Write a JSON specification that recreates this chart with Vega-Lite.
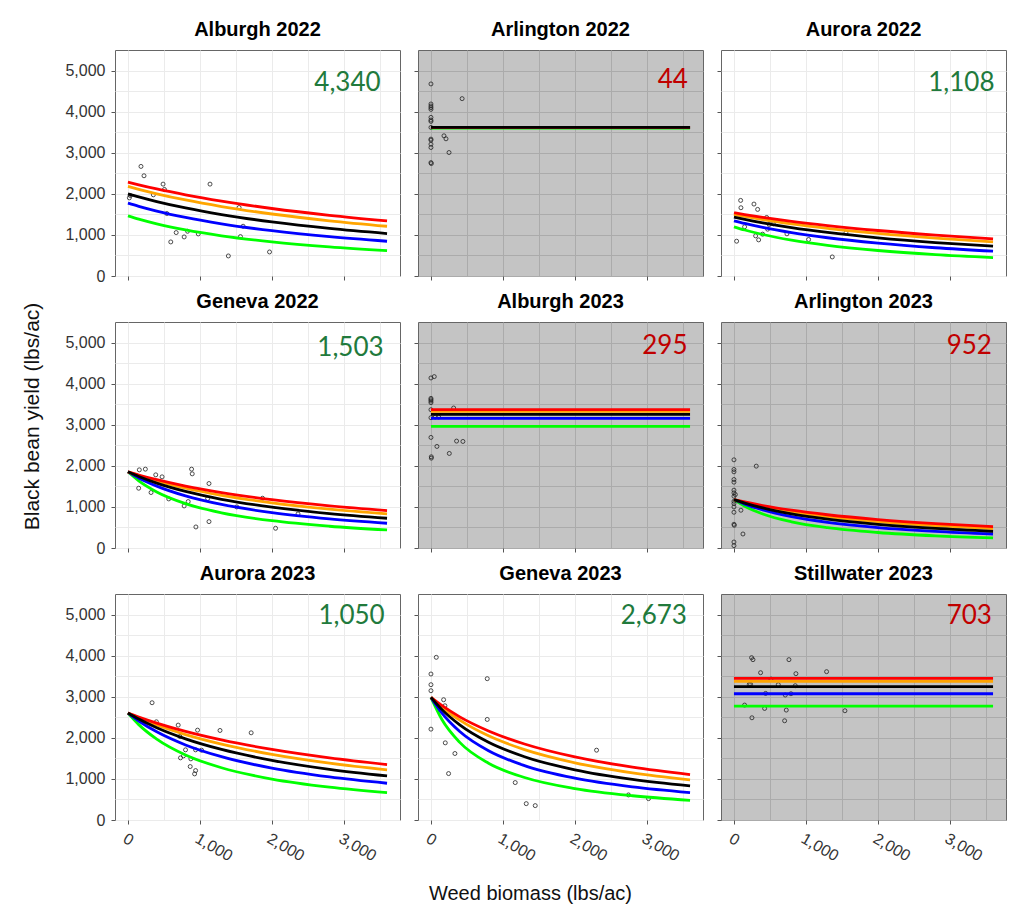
{
  "$schema": "https://vega.github.io/schema/vega-lite/v6.json",
  "padding": {"left": 21, "top": 19, "right": 2, "bottom": 2},
  "background": "white",
  "columns": 3,
  "spacing": {"row": 46, "column": 18},
  "bounds": "flush",
  "resolve": {"scale": {"x": "independent", "y": "independent"}, "axis": {"x": "independent", "y": "independent"}},
  "datasets": {
    "pts": [
      {"panel": "Alburgh 2022", "x": 181, "y": 2667}, {"panel": "Alburgh 2022", "x": 223, "y": 2439}, {"panel": "Alburgh 2022", "x": 488, "y": 2236}, {"panel": "Alburgh 2022", "x": 507, "y": 2106}, {"panel": "Alburgh 2022", "x": 353, "y": 1976}, {"panel": "Alburgh 2022", "x": 19, "y": 1902}, {"panel": "Alburgh 2022", "x": 33, "y": 1959}, {"panel": "Alburgh 2022", "x": 540, "y": 1520}, {"panel": "Alburgh 2022", "x": 670, "y": 1057}, {"panel": "Alburgh 2022", "x": 595, "y": 829}, {"panel": "Alburgh 2022", "x": 781, "y": 951}, {"panel": "Alburgh 2022", "x": 828, "y": 1089}, {"panel": "Alburgh 2022", "x": 977, "y": 1024}, {"panel": "Alburgh 2022", "x": 1140, "y": 2236}, {"panel": "Alburgh 2022", "x": 1395, "y": 488}, {"panel": "Alburgh 2022", "x": 1544, "y": 1667}, {"panel": "Alburgh 2022", "x": 1600, "y": 1211}, {"panel": "Alburgh 2022", "x": 1563, "y": 959}, {"panel": "Alburgh 2022", "x": 1967, "y": 585},
      {"panel": "Arlington 2022", "x": 0, "y": 4674}, {"panel": "Arlington 2022", "x": 0, "y": 4186}, {"panel": "Arlington 2022", "x": 0, "y": 4137}, {"panel": "Arlington 2022", "x": 0, "y": 4096}, {"panel": "Arlington 2022", "x": 0, "y": 4055}, {"panel": "Arlington 2022", "x": 0, "y": 3860}, {"panel": "Arlington 2022", "x": 0, "y": 3795}, {"panel": "Arlington 2022", "x": 0, "y": 3762}, {"panel": "Arlington 2022", "x": 0, "y": 3616}, {"panel": "Arlington 2022", "x": 0, "y": 3331}, {"panel": "Arlington 2022", "x": 0, "y": 3306}, {"panel": "Arlington 2022", "x": 0, "y": 3208}, {"panel": "Arlington 2022", "x": 0, "y": 3127}, {"panel": "Arlington 2022", "x": 0, "y": 2760}, {"panel": "Arlington 2022", "x": 5, "y": 2736}, {"panel": "Arlington 2022", "x": 433, "y": 4316}, {"panel": "Arlington 2022", "x": 181, "y": 3412}, {"panel": "Arlington 2022", "x": 209, "y": 3339}, {"panel": "Arlington 2022", "x": 251, "y": 3005},
      {"panel": "Aurora 2022", "x": 93, "y": 1840}, {"panel": "Aurora 2022", "x": 97, "y": 1661}, {"panel": "Aurora 2022", "x": 278, "y": 1751}, {"panel": "Aurora 2022", "x": 329, "y": 1621}, {"panel": "Aurora 2022", "x": 37, "y": 847}, {"panel": "Aurora 2022", "x": 148, "y": 1197}, {"panel": "Aurora 2022", "x": 301, "y": 977}, {"panel": "Aurora 2022", "x": 343, "y": 879}, {"panel": "Aurora 2022", "x": 398, "y": 1018}, {"panel": "Aurora 2022", "x": 454, "y": 1425}, {"panel": "Aurora 2022", "x": 468, "y": 1140}, {"panel": "Aurora 2022", "x": 491, "y": 1254}, {"panel": "Aurora 2022", "x": 546, "y": 1270}, {"panel": "Aurora 2022", "x": 736, "y": 1026}, {"panel": "Aurora 2022", "x": 1037, "y": 888}, {"panel": "Aurora 2022", "x": 1366, "y": 464}, {"panel": "Aurora 2022", "x": 1556, "y": 1050},
      {"panel": "Geneva 2022", "x": 158, "y": 1902}, {"panel": "Geneva 2022", "x": 242, "y": 1919}, {"panel": "Geneva 2022", "x": 149, "y": 1455}, {"panel": "Geneva 2022", "x": 321, "y": 1350}, {"panel": "Geneva 2022", "x": 386, "y": 1780}, {"panel": "Geneva 2022", "x": 474, "y": 1732}, {"panel": "Geneva 2022", "x": 567, "y": 1195}, {"panel": "Geneva 2022", "x": 781, "y": 1024}, {"panel": "Geneva 2022", "x": 837, "y": 1130}, {"panel": "Geneva 2022", "x": 884, "y": 1919}, {"panel": "Geneva 2022", "x": 893, "y": 1805}, {"panel": "Geneva 2022", "x": 944, "y": 512}, {"panel": "Geneva 2022", "x": 1126, "y": 1569}, {"panel": "Geneva 2022", "x": 1107, "y": 1203}, {"panel": "Geneva 2022", "x": 1126, "y": 642}, {"panel": "Geneva 2022", "x": 1512, "y": 1000}, {"panel": "Geneva 2022", "x": 1870, "y": 1211}, {"panel": "Geneva 2022", "x": 2051, "y": 480}, {"panel": "Geneva 2022", "x": 2363, "y": 829},
      {"panel": "Alburgh 2023", "x": 0, "y": 4138}, {"panel": "Alburgh 2023", "x": 46, "y": 4171}, {"panel": "Alburgh 2023", "x": 0, "y": 3642}, {"panel": "Alburgh 2023", "x": 0, "y": 3610}, {"panel": "Alburgh 2023", "x": 0, "y": 3577}, {"panel": "Alburgh 2023", "x": 0, "y": 3537}, {"panel": "Alburgh 2023", "x": 0, "y": 3366}, {"panel": "Alburgh 2023", "x": 0, "y": 3171}, {"panel": "Alburgh 2023", "x": 60, "y": 3187}, {"panel": "Alburgh 2023", "x": 106, "y": 3187}, {"panel": "Alburgh 2023", "x": 315, "y": 3407}, {"panel": "Alburgh 2023", "x": 0, "y": 2691}, {"panel": "Alburgh 2023", "x": 83, "y": 2472}, {"panel": "Alburgh 2023", "x": 356, "y": 2602}, {"panel": "Alburgh 2023", "x": 444, "y": 2593}, {"panel": "Alburgh 2023", "x": 255, "y": 2301}, {"panel": "Alburgh 2023", "x": 5, "y": 2220}, {"panel": "Alburgh 2023", "x": 5, "y": 2187},
      {"panel": "Arlington 2023", "x": 0, "y": 2146}, {"panel": "Arlington 2023", "x": 0, "y": 1911}, {"panel": "Arlington 2023", "x": 0, "y": 1854}, {"panel": "Arlington 2023", "x": 0, "y": 1667}, {"panel": "Arlington 2023", "x": 0, "y": 1602}, {"panel": "Arlington 2023", "x": 0, "y": 1407}, {"panel": "Arlington 2023", "x": 0, "y": 1341}, {"panel": "Arlington 2023", "x": 0, "y": 1260}, {"panel": "Arlington 2023", "x": 0, "y": 1138}, {"panel": "Arlington 2023", "x": 0, "y": 1081}, {"panel": "Arlington 2023", "x": 0, "y": 1000}, {"panel": "Arlington 2023", "x": 0, "y": 870}, {"panel": "Arlington 2023", "x": 0, "y": 577}, {"panel": "Arlington 2023", "x": 5, "y": 553}, {"panel": "Arlington 2023", "x": 0, "y": 146}, {"panel": "Arlington 2023", "x": 0, "y": 57}, {"panel": "Arlington 2023", "x": 310, "y": 1992}, {"panel": "Arlington 2023", "x": 97, "y": 919}, {"panel": "Arlington 2023", "x": 125, "y": 341}, {"panel": "Arlington 2023", "x": 19, "y": 1301},
      {"panel": "Aurora 2023", "x": 335, "y": 2854}, {"panel": "Aurora 2023", "x": 395, "y": 2390}, {"panel": "Aurora 2023", "x": 698, "y": 2309}, {"panel": "Aurora 2023", "x": 721, "y": 2033}, {"panel": "Aurora 2023", "x": 967, "y": 2187}, {"panel": "Aurora 2023", "x": 1279, "y": 2179}, {"panel": "Aurora 2023", "x": 1712, "y": 2122}, {"panel": "Aurora 2023", "x": 800, "y": 1707}, {"panel": "Aurora 2023", "x": 730, "y": 1512}, {"panel": "Aurora 2023", "x": 772, "y": 1561}, {"panel": "Aurora 2023", "x": 874, "y": 1488}, {"panel": "Aurora 2023", "x": 940, "y": 1707}, {"panel": "Aurora 2023", "x": 1023, "y": 1699}, {"panel": "Aurora 2023", "x": 865, "y": 1301}, {"panel": "Aurora 2023", "x": 940, "y": 1203}, {"panel": "Aurora 2023", "x": 926, "y": 1122},
      {"panel": "Geneva 2023", "x": 74, "y": 3959}, {"panel": "Geneva 2023", "x": 0, "y": 3553}, {"panel": "Geneva 2023", "x": 0, "y": 3293}, {"panel": "Geneva 2023", "x": 0, "y": 3146}, {"panel": "Geneva 2023", "x": 0, "y": 2211}, {"panel": "Geneva 2023", "x": 176, "y": 2927}, {"panel": "Geneva 2023", "x": 194, "y": 2780}, {"panel": "Geneva 2023", "x": 199, "y": 1878}, {"panel": "Geneva 2023", "x": 333, "y": 1618}, {"panel": "Geneva 2023", "x": 245, "y": 1130}, {"panel": "Geneva 2023", "x": 782, "y": 3439}, {"panel": "Geneva 2023", "x": 782, "y": 2447}, {"panel": "Geneva 2023", "x": 1171, "y": 911}, {"panel": "Geneva 2023", "x": 1324, "y": 398}, {"panel": "Geneva 2023", "x": 1449, "y": 350}, {"panel": "Geneva 2023", "x": 2301, "y": 1699}, {"panel": "Geneva 2023", "x": 2745, "y": 610}, {"panel": "Geneva 2023", "x": 3023, "y": 520},
      {"panel": "Stillwater 2023", "x": 245, "y": 3951}, {"panel": "Stillwater 2023", "x": 264, "y": 3902}, {"panel": "Stillwater 2023", "x": 764, "y": 3902}, {"panel": "Stillwater 2023", "x": 370, "y": 3585}, {"panel": "Stillwater 2023", "x": 861, "y": 3561}, {"panel": "Stillwater 2023", "x": 1287, "y": 3610}, {"panel": "Stillwater 2023", "x": 213, "y": 3301}, {"panel": "Stillwater 2023", "x": 231, "y": 3301}, {"panel": "Stillwater 2023", "x": 514, "y": 3431}, {"panel": "Stillwater 2023", "x": 616, "y": 3293}, {"panel": "Stillwater 2023", "x": 852, "y": 3268}, {"panel": "Stillwater 2023", "x": 440, "y": 3081}, {"panel": "Stillwater 2023", "x": 713, "y": 3041}, {"panel": "Stillwater 2023", "x": 792, "y": 3073}, {"panel": "Stillwater 2023", "x": 148, "y": 2797}, {"panel": "Stillwater 2023", "x": 426, "y": 2715}, {"panel": "Stillwater 2023", "x": 727, "y": 2675}, {"panel": "Stillwater 2023", "x": 1542, "y": 2659}, {"panel": "Stillwater 2023", "x": 250, "y": 2488}, {"panel": "Stillwater 2023", "x": 704, "y": 2415}
    ],
    "curves": [
      {"panel": "Alburgh 2022", "curve": "green", "x": 0, "y": 1463}, {"panel": "Alburgh 2022", "curve": "green", "x": 150, "y": 1384}, {"panel": "Alburgh 2022", "curve": "green", "x": 400, "y": 1270}, {"panel": "Alburgh 2022", "curve": "green", "x": 800, "y": 1122}, {"panel": "Alburgh 2022", "curve": "green", "x": 1300, "y": 979}, {"panel": "Alburgh 2022", "curve": "green", "x": 2000, "y": 831}, {"panel": "Alburgh 2022", "curve": "green", "x": 2800, "y": 709}, {"panel": "Alburgh 2022", "curve": "green", "x": 3600, "y": 618},
      {"panel": "Alburgh 2022", "curve": "blue", "x": 0, "y": 1772}, {"panel": "Alburgh 2022", "curve": "blue", "x": 150, "y": 1695}, {"panel": "Alburgh 2022", "curve": "blue", "x": 400, "y": 1580}, {"panel": "Alburgh 2022", "curve": "blue", "x": 800, "y": 1425}, {"panel": "Alburgh 2022", "curve": "blue", "x": 1300, "y": 1270}, {"panel": "Alburgh 2022", "curve": "blue", "x": 2000, "y": 1102}, {"panel": "Alburgh 2022", "curve": "blue", "x": 2800, "y": 957}, {"panel": "Alburgh 2022", "curve": "blue", "x": 3600, "y": 846},
      {"panel": "Alburgh 2022", "curve": "orange", "x": 0, "y": 2179}, {"panel": "Alburgh 2022", "curve": "orange", "x": 150, "y": 2109}, {"panel": "Alburgh 2022", "curve": "orange", "x": 400, "y": 2001}, {"panel": "Alburgh 2022", "curve": "orange", "x": 800, "y": 1850}, {"panel": "Alburgh 2022", "curve": "orange", "x": 1300, "y": 1691}, {"panel": "Alburgh 2022", "curve": "orange", "x": 2000, "y": 1509}, {"panel": "Alburgh 2022", "curve": "orange", "x": 2800, "y": 1344}, {"panel": "Alburgh 2022", "curve": "orange", "x": 3600, "y": 1211},
      {"panel": "Alburgh 2022", "curve": "red", "x": 0, "y": 2285}, {"panel": "Alburgh 2022", "curve": "red", "x": 150, "y": 2220}, {"panel": "Alburgh 2022", "curve": "red", "x": 400, "y": 2119}, {"panel": "Alburgh 2022", "curve": "red", "x": 800, "y": 1976}, {"panel": "Alburgh 2022", "curve": "red", "x": 1300, "y": 1822}, {"panel": "Alburgh 2022", "curve": "red", "x": 2000, "y": 1643}, {"panel": "Alburgh 2022", "curve": "red", "x": 2800, "y": 1477}, {"panel": "Alburgh 2022", "curve": "red", "x": 3600, "y": 1341},
      {"panel": "Alburgh 2022", "curve": "black", "x": 0, "y": 2000}, {"panel": "Alburgh 2022", "curve": "black", "x": 150, "y": 1925}, {"panel": "Alburgh 2022", "curve": "black", "x": 400, "y": 1812}, {"panel": "Alburgh 2022", "curve": "black", "x": 800, "y": 1656}, {"panel": "Alburgh 2022", "curve": "black", "x": 1300, "y": 1495}, {"panel": "Alburgh 2022", "curve": "black", "x": 2000, "y": 1316}, {"panel": "Alburgh 2022", "curve": "black", "x": 2800, "y": 1157}, {"panel": "Alburgh 2022", "curve": "black", "x": 3600, "y": 1033},

      {"panel": "Arlington 2022", "curve": "green", "x": 0, "y": 3598}, {"panel": "Arlington 2022", "curve": "green", "x": 3600, "y": 3598},
      {"panel": "Arlington 2022", "curve": "blue", "x": 0, "y": 3612}, {"panel": "Arlington 2022", "curve": "blue", "x": 3600, "y": 3612},
      {"panel": "Arlington 2022", "curve": "orange", "x": 0, "y": 3615}, {"panel": "Arlington 2022", "curve": "orange", "x": 3600, "y": 3615},
      {"panel": "Arlington 2022", "curve": "red", "x": 0, "y": 3617}, {"panel": "Arlington 2022", "curve": "red", "x": 3600, "y": 3617},
      {"panel": "Arlington 2022", "curve": "black", "x": 0, "y": 3615}, {"panel": "Arlington 2022", "curve": "black", "x": 3600, "y": 3615},

      {"panel": "Aurora 2022", "curve": "green", "x": 0, "y": 1197}, {"panel": "Aurora 2022", "curve": "green", "x": 150, "y": 1119}, {"panel": "Aurora 2022", "curve": "green", "x": 400, "y": 1010}, {"panel": "Aurora 2022", "curve": "green", "x": 800, "y": 873}, {"panel": "Aurora 2022", "curve": "green", "x": 1300, "y": 746}, {"panel": "Aurora 2022", "curve": "green", "x": 2000, "y": 621}, {"panel": "Aurora 2022", "curve": "green", "x": 2800, "y": 520}, {"panel": "Aurora 2022", "curve": "green", "x": 3600, "y": 448},
      {"panel": "Aurora 2022", "curve": "blue", "x": 0, "y": 1344}, {"panel": "Aurora 2022", "curve": "blue", "x": 150, "y": 1279}, {"panel": "Aurora 2022", "curve": "blue", "x": 400, "y": 1183}, {"panel": "Aurora 2022", "curve": "blue", "x": 800, "y": 1056}, {"panel": "Aurora 2022", "curve": "blue", "x": 1300, "y": 931}, {"panel": "Aurora 2022", "curve": "blue", "x": 2000, "y": 799}, {"panel": "Aurora 2022", "curve": "blue", "x": 2800, "y": 687}, {"panel": "Aurora 2022", "curve": "blue", "x": 3600, "y": 603},
      {"panel": "Aurora 2022", "curve": "orange", "x": 0, "y": 1498}, {"panel": "Aurora 2022", "curve": "orange", "x": 150, "y": 1450}, {"panel": "Aurora 2022", "curve": "orange", "x": 400, "y": 1375}, {"panel": "Aurora 2022", "curve": "orange", "x": 800, "y": 1271}, {"panel": "Aurora 2022", "curve": "orange", "x": 1300, "y": 1161}, {"panel": "Aurora 2022", "curve": "orange", "x": 2000, "y": 1036}, {"panel": "Aurora 2022", "curve": "orange", "x": 2800, "y": 922}, {"panel": "Aurora 2022", "curve": "orange", "x": 3600, "y": 831},
      {"panel": "Aurora 2022", "curve": "red", "x": 0, "y": 1539}, {"panel": "Aurora 2022", "curve": "red", "x": 150, "y": 1495}, {"panel": "Aurora 2022", "curve": "red", "x": 400, "y": 1428}, {"panel": "Aurora 2022", "curve": "red", "x": 800, "y": 1331}, {"panel": "Aurora 2022", "curve": "red", "x": 1300, "y": 1228}, {"panel": "Aurora 2022", "curve": "red", "x": 2000, "y": 1107}, {"panel": "Aurora 2022", "curve": "red", "x": 2800, "y": 995}, {"panel": "Aurora 2022", "curve": "red", "x": 3600, "y": 904},
      {"panel": "Aurora 2022", "curve": "black", "x": 0, "y": 1433}, {"panel": "Aurora 2022", "curve": "black", "x": 150, "y": 1377}, {"panel": "Aurora 2022", "curve": "black", "x": 400, "y": 1293}, {"panel": "Aurora 2022", "curve": "black", "x": 800, "y": 1177}, {"panel": "Aurora 2022", "curve": "black", "x": 1300, "y": 1059}, {"panel": "Aurora 2022", "curve": "black", "x": 2000, "y": 929}, {"panel": "Aurora 2022", "curve": "black", "x": 2800, "y": 814}, {"panel": "Aurora 2022", "curve": "black", "x": 3600, "y": 725},

      {"panel": "Geneva 2022", "curve": "green", "x": 0, "y": 1854}, {"panel": "Geneva 2022", "curve": "green", "x": 150, "y": 1634}, {"panel": "Geneva 2022", "curve": "green", "x": 400, "y": 1365}, {"panel": "Geneva 2022", "curve": "green", "x": 800, "y": 1080}, {"panel": "Geneva 2022", "curve": "green", "x": 1300, "y": 857}, {"panel": "Geneva 2022", "curve": "green", "x": 2000, "y": 664}, {"panel": "Geneva 2022", "curve": "green", "x": 2800, "y": 529}, {"panel": "Geneva 2022", "curve": "green", "x": 3600, "y": 439},
      {"panel": "Geneva 2022", "curve": "blue", "x": 0, "y": 1854}, {"panel": "Geneva 2022", "curve": "blue", "x": 150, "y": 1706}, {"panel": "Geneva 2022", "curve": "blue", "x": 400, "y": 1506}, {"panel": "Geneva 2022", "curve": "blue", "x": 800, "y": 1268}, {"panel": "Geneva 2022", "curve": "blue", "x": 1300, "y": 1059}, {"panel": "Geneva 2022", "curve": "blue", "x": 2000, "y": 860}, {"panel": "Geneva 2022", "curve": "blue", "x": 2800, "y": 708}, {"panel": "Geneva 2022", "curve": "blue", "x": 3600, "y": 602},
      {"panel": "Geneva 2022", "curve": "orange", "x": 0, "y": 1854}, {"panel": "Geneva 2022", "curve": "orange", "x": 150, "y": 1763}, {"panel": "Geneva 2022", "curve": "orange", "x": 400, "y": 1630}, {"panel": "Geneva 2022", "curve": "orange", "x": 800, "y": 1454}, {"panel": "Geneva 2022", "curve": "orange", "x": 1300, "y": 1282}, {"panel": "Geneva 2022", "curve": "orange", "x": 2000, "y": 1099}, {"panel": "Geneva 2022", "curve": "orange", "x": 2800, "y": 945}, {"panel": "Geneva 2022", "curve": "orange", "x": 3600, "y": 829},
      {"panel": "Geneva 2022", "curve": "red", "x": 0, "y": 1854}, {"panel": "Geneva 2022", "curve": "red", "x": 150, "y": 1777}, {"panel": "Geneva 2022", "curve": "red", "x": 400, "y": 1663}, {"panel": "Geneva 2022", "curve": "red", "x": 800, "y": 1507}, {"panel": "Geneva 2022", "curve": "red", "x": 1300, "y": 1350}, {"panel": "Geneva 2022", "curve": "red", "x": 2000, "y": 1177}, {"panel": "Geneva 2022", "curve": "red", "x": 2800, "y": 1027}, {"panel": "Geneva 2022", "curve": "red", "x": 3600, "y": 911},
      {"panel": "Geneva 2022", "curve": "black", "x": 0, "y": 1854}, {"panel": "Geneva 2022", "curve": "black", "x": 150, "y": 1741}, {"panel": "Geneva 2022", "curve": "black", "x": 400, "y": 1580}, {"panel": "Geneva 2022", "curve": "black", "x": 800, "y": 1377}, {"panel": "Geneva 2022", "curve": "black", "x": 1300, "y": 1186}, {"panel": "Geneva 2022", "curve": "black", "x": 2000, "y": 993}, {"panel": "Geneva 2022", "curve": "black", "x": 2800, "y": 837}, {"panel": "Geneva 2022", "curve": "black", "x": 3600, "y": 724},

      {"panel": "Alburgh 2023", "curve": "green", "x": 0, "y": 2959}, {"panel": "Alburgh 2023", "curve": "green", "x": 3600, "y": 2959},
      {"panel": "Alburgh 2023", "curve": "blue", "x": 0, "y": 3154}, {"panel": "Alburgh 2023", "curve": "blue", "x": 3600, "y": 3154},
      {"panel": "Alburgh 2023", "curve": "orange", "x": 0, "y": 3325}, {"panel": "Alburgh 2023", "curve": "orange", "x": 3600, "y": 3325},
      {"panel": "Alburgh 2023", "curve": "red", "x": 0, "y": 3366}, {"panel": "Alburgh 2023", "curve": "red", "x": 3600, "y": 3366},
      {"panel": "Alburgh 2023", "curve": "black", "x": 0, "y": 3252}, {"panel": "Alburgh 2023", "curve": "black", "x": 3600, "y": 3252},

      {"panel": "Arlington 2023", "curve": "green", "x": 0, "y": 1179}, {"panel": "Arlington 2023", "curve": "green", "x": 150, "y": 1017}, {"panel": "Arlington 2023", "curve": "green", "x": 400, "y": 827}, {"panel": "Arlington 2023", "curve": "green", "x": 800, "y": 637}, {"panel": "Arlington 2023", "curve": "green", "x": 1300, "y": 495}, {"panel": "Arlington 2023", "curve": "green", "x": 2000, "y": 377}, {"panel": "Arlington 2023", "curve": "green", "x": 2800, "y": 296}, {"panel": "Arlington 2023", "curve": "green", "x": 3600, "y": 244},
      {"panel": "Arlington 2023", "curve": "blue", "x": 0, "y": 1179}, {"panel": "Arlington 2023", "curve": "blue", "x": 150, "y": 1069}, {"panel": "Arlington 2023", "curve": "blue", "x": 400, "y": 926}, {"panel": "Arlington 2023", "curve": "blue", "x": 800, "y": 763}, {"panel": "Arlington 2023", "curve": "blue", "x": 1300, "y": 625}, {"panel": "Arlington 2023", "curve": "blue", "x": 2000, "y": 498}, {"panel": "Arlington 2023", "curve": "blue", "x": 2800, "y": 405}, {"panel": "Arlington 2023", "curve": "blue", "x": 3600, "y": 341},
      {"panel": "Arlington 2023", "curve": "orange", "x": 0, "y": 1179}, {"panel": "Arlington 2023", "curve": "orange", "x": 150, "y": 1110}, {"panel": "Arlington 2023", "curve": "orange", "x": 400, "y": 1011}, {"panel": "Arlington 2023", "curve": "orange", "x": 800, "y": 885}, {"panel": "Arlington 2023", "curve": "orange", "x": 1300, "y": 765}, {"panel": "Arlington 2023", "curve": "orange", "x": 2000, "y": 643}, {"panel": "Arlington 2023", "curve": "orange", "x": 2800, "y": 545}, {"panel": "Arlington 2023", "curve": "orange", "x": 3600, "y": 472},
      {"panel": "Arlington 2023", "curve": "red", "x": 0, "y": 1179}, {"panel": "Arlington 2023", "curve": "red", "x": 150, "y": 1120}, {"panel": "Arlington 2023", "curve": "red", "x": 400, "y": 1033}, {"panel": "Arlington 2023", "curve": "red", "x": 800, "y": 920}, {"panel": "Arlington 2023", "curve": "red", "x": 1300, "y": 809}, {"panel": "Arlington 2023", "curve": "red", "x": 2000, "y": 692}, {"panel": "Arlington 2023", "curve": "red", "x": 2800, "y": 594}, {"panel": "Arlington 2023", "curve": "red", "x": 3600, "y": 520},
      {"panel": "Arlington 2023", "curve": "black", "x": 0, "y": 1179}, {"panel": "Arlington 2023", "curve": "black", "x": 150, "y": 1093}, {"panel": "Arlington 2023", "curve": "black", "x": 400, "y": 974}, {"panel": "Arlington 2023", "curve": "black", "x": 800, "y": 829}, {"panel": "Arlington 2023", "curve": "black", "x": 1300, "y": 700}, {"panel": "Arlington 2023", "curve": "black", "x": 2000, "y": 574}, {"panel": "Arlington 2023", "curve": "black", "x": 2800, "y": 476}, {"panel": "Arlington 2023", "curve": "black", "x": 3600, "y": 407},

      {"panel": "Aurora 2023", "curve": "green", "x": 0, "y": 2602}, {"panel": "Aurora 2023", "curve": "green", "x": 150, "y": 2321}, {"panel": "Aurora 2023", "curve": "green", "x": 400, "y": 1968}, {"panel": "Aurora 2023", "curve": "green", "x": 800, "y": 1582}, {"panel": "Aurora 2023", "curve": "green", "x": 1300, "y": 1271}, {"panel": "Aurora 2023", "curve": "green", "x": 2000, "y": 996}, {"panel": "Aurora 2023", "curve": "green", "x": 2800, "y": 799}, {"panel": "Aurora 2023", "curve": "green", "x": 3600, "y": 667},
      {"panel": "Aurora 2023", "curve": "blue", "x": 0, "y": 2602}, {"panel": "Aurora 2023", "curve": "blue", "x": 150, "y": 2410}, {"panel": "Aurora 2023", "curve": "blue", "x": 400, "y": 2146}, {"panel": "Aurora 2023", "curve": "blue", "x": 800, "y": 1827}, {"panel": "Aurora 2023", "curve": "blue", "x": 1300, "y": 1540}, {"panel": "Aurora 2023", "curve": "blue", "x": 2000, "y": 1262}, {"panel": "Aurora 2023", "curve": "blue", "x": 2800, "y": 1047}, {"panel": "Aurora 2023", "curve": "blue", "x": 3600, "y": 894},
      {"panel": "Aurora 2023", "curve": "orange", "x": 0, "y": 2602}, {"panel": "Aurora 2023", "curve": "orange", "x": 150, "y": 2485}, {"panel": "Aurora 2023", "curve": "orange", "x": 400, "y": 2311}, {"panel": "Aurora 2023", "curve": "orange", "x": 800, "y": 2079}, {"panel": "Aurora 2023", "curve": "orange", "x": 1300, "y": 1847}, {"panel": "Aurora 2023", "curve": "orange", "x": 2000, "y": 1597}, {"panel": "Aurora 2023", "curve": "orange", "x": 2800, "y": 1383}, {"panel": "Aurora 2023", "curve": "orange", "x": 3600, "y": 1220},
      {"panel": "Aurora 2023", "curve": "red", "x": 0, "y": 2602}, {"panel": "Aurora 2023", "curve": "red", "x": 150, "y": 2505}, {"panel": "Aurora 2023", "curve": "red", "x": 400, "y": 2359}, {"panel": "Aurora 2023", "curve": "red", "x": 800, "y": 2157}, {"panel": "Aurora 2023", "curve": "red", "x": 1300, "y": 1949}, {"panel": "Aurora 2023", "curve": "red", "x": 2000, "y": 1717}, {"panel": "Aurora 2023", "curve": "red", "x": 2800, "y": 1512}, {"panel": "Aurora 2023", "curve": "red", "x": 3600, "y": 1350},
      {"panel": "Aurora 2023", "curve": "black", "x": 0, "y": 2602}, {"panel": "Aurora 2023", "curve": "black", "x": 150, "y": 2456}, {"panel": "Aurora 2023", "curve": "black", "x": 400, "y": 2246}, {"panel": "Aurora 2023", "curve": "black", "x": 800, "y": 1976}, {"panel": "Aurora 2023", "curve": "black", "x": 1300, "y": 1718}, {"panel": "Aurora 2023", "curve": "black", "x": 2000, "y": 1452}, {"panel": "Aurora 2023", "curve": "black", "x": 2800, "y": 1234}, {"panel": "Aurora 2023", "curve": "black", "x": 3600, "y": 1073},

      {"panel": "Geneva 2023", "curve": "green", "x": 0, "y": 2984}, {"panel": "Geneva 2023", "curve": "green", "x": 150, "y": 2451}, {"panel": "Geneva 2023", "curve": "green", "x": 400, "y": 1889}, {"panel": "Geneva 2023", "curve": "green", "x": 800, "y": 1382}, {"panel": "Geneva 2023", "curve": "green", "x": 1300, "y": 1035}, {"panel": "Geneva 2023", "curve": "green", "x": 2000, "y": 765}, {"panel": "Geneva 2023", "curve": "green", "x": 2800, "y": 590}, {"panel": "Geneva 2023", "curve": "green", "x": 3600, "y": 480},
      {"panel": "Geneva 2023", "curve": "blue", "x": 0, "y": 2984}, {"panel": "Geneva 2023", "curve": "blue", "x": 150, "y": 2607}, {"panel": "Geneva 2023", "curve": "blue", "x": 400, "y": 2153}, {"panel": "Geneva 2023", "curve": "blue", "x": 800, "y": 1684}, {"panel": "Geneva 2023", "curve": "blue", "x": 1300, "y": 1324}, {"panel": "Geneva 2023", "curve": "blue", "x": 2000, "y": 1018}, {"panel": "Geneva 2023", "curve": "blue", "x": 2800, "y": 806}, {"panel": "Geneva 2023", "curve": "blue", "x": 3600, "y": 667},
      {"panel": "Geneva 2023", "curve": "orange", "x": 0, "y": 2984}, {"panel": "Geneva 2023", "curve": "orange", "x": 150, "y": 2748}, {"panel": "Geneva 2023", "curve": "orange", "x": 400, "y": 2429}, {"panel": "Geneva 2023", "curve": "orange", "x": 800, "y": 2048}, {"panel": "Geneva 2023", "curve": "orange", "x": 1300, "y": 1712}, {"panel": "Geneva 2023", "curve": "orange", "x": 2000, "y": 1392}, {"panel": "Geneva 2023", "curve": "orange", "x": 2800, "y": 1148}, {"panel": "Geneva 2023", "curve": "orange", "x": 3600, "y": 976},
      {"panel": "Geneva 2023", "curve": "red", "x": 0, "y": 2984}, {"panel": "Geneva 2023", "curve": "red", "x": 150, "y": 2787}, {"panel": "Geneva 2023", "curve": "red", "x": 400, "y": 2510}, {"panel": "Geneva 2023", "curve": "red", "x": 800, "y": 2167}, {"panel": "Geneva 2023", "curve": "red", "x": 1300, "y": 1850}, {"panel": "Geneva 2023", "curve": "red", "x": 2000, "y": 1535}, {"panel": "Geneva 2023", "curve": "red", "x": 2800, "y": 1286}, {"panel": "Geneva 2023", "curve": "red", "x": 3600, "y": 1106},
      {"panel": "Geneva 2023", "curve": "black", "x": 0, "y": 2984}, {"panel": "Geneva 2023", "curve": "black", "x": 150, "y": 2692}, {"panel": "Geneva 2023", "curve": "black", "x": 400, "y": 2315}, {"panel": "Geneva 2023", "curve": "black", "x": 800, "y": 1891}, {"panel": "Geneva 2023", "curve": "black", "x": 1300, "y": 1539}, {"panel": "Geneva 2023", "curve": "black", "x": 2000, "y": 1221}, {"panel": "Geneva 2023", "curve": "black", "x": 2800, "y": 987}, {"panel": "Geneva 2023", "curve": "black", "x": 3600, "y": 829},

      {"panel": "Stillwater 2023", "curve": "green", "x": 0, "y": 2772}, {"panel": "Stillwater 2023", "curve": "green", "x": 3600, "y": 2772},
      {"panel": "Stillwater 2023", "curve": "blue", "x": 0, "y": 3073}, {"panel": "Stillwater 2023", "curve": "blue", "x": 3600, "y": 3073},
      {"panel": "Stillwater 2023", "curve": "orange", "x": 0, "y": 3374}, {"panel": "Stillwater 2023", "curve": "orange", "x": 3600, "y": 3374},
      {"panel": "Stillwater 2023", "curve": "red", "x": 0, "y": 3447}, {"panel": "Stillwater 2023", "curve": "red", "x": 3600, "y": 3447},
      {"panel": "Stillwater 2023", "curve": "black", "x": 0, "y": 3244}, {"panel": "Stillwater 2023", "curve": "black", "x": 3600, "y": 3244}
    ],
    "labels": [
      {"panel": "Alburgh 2022", "value": 4340, "status": "sig", "x": 3510, "y": 4700},
      {"panel": "Arlington 2022", "value": 44, "status": "ns", "x": 3570, "y": 4780},
      {"panel": "Aurora 2022", "value": 1108, "status": "sig", "x": 3620, "y": 4707},
      {"panel": "Geneva 2022", "value": 1503, "status": "sig", "x": 3552, "y": 4860},
      {"panel": "Alburgh 2023", "value": 295, "status": "ns", "x": 3565, "y": 4920},
      {"panel": "Arlington 2023", "value": 952, "status": "ns", "x": 3584, "y": 4920},
      {"panel": "Aurora 2023", "value": 1050, "status": "sig", "x": 3567, "y": 4958},
      {"panel": "Geneva 2023", "value": 2673, "status": "sig", "x": 3556, "y": 4958},
      {"panel": "Stillwater 2023", "value": 703, "status": "ns", "x": 3584, "y": 4958}
    ]
  },
  "config": {
    "view": {"stroke": "#666666", "strokeWidth": 1},
    "axis": {"domain": false, "tickColor": "#555555", "tickSize": 4, "tickWidth": 1, "labelFont": "Liberation Sans", "labelFontSize": 16, "labelColor": "#333333", "gridWidth": 1, "titleFont": "Liberation Sans", "titleFontWeight": "normal", "titleColor": "#111111", "labelOverlap": false},
    "axisX": {"labelAngle": 30, "labelAlign": "left", "labelBaseline": "top", "labelPadding": 6, "labelFlush": false},
    "axisY": {"labelPadding": 6},
    "title": {"font": "Liberation Sans", "fontSize": 20, "fontWeight": "bold", "color": "#000000", "anchor": "middle", "offset": 10, "baseline": "alphabetic"},
    "line": {"strokeWidth": 2.8, "interpolate": "monotone"},
    "point": {"shape": "circle", "filled": false, "size": 16, "strokeWidth": 0.8, "color": "#222222", "opacity": 1},
    "text": {"font": "Lato", "fontSize": 26, "align": "right", "baseline": "middle"}
  },
  "concat": [
    {
      "title": "Alburgh 2022", "width": 285, "height": 226, "view": {"fill": "white"},
      "encoding": {
        "x": {"field": "x", "type": "quantitative", "scale": {"domain": [-180, 3780], "nice": false, "zero": false}, "axis": {"values": [0, 500, 1000, 1500, 2000, 2500, 3000, 3500], "labels": false, "title": null, "gridColor": "#EBEBEB", "tickOpacity": {"condition": {"test": "datum.value % 1000 === 0", "value": 1}, "value": 0}}},
        "y": {"field": "y", "type": "quantitative", "scale": {"domain": [0, 5500], "nice": false}, "axis": {"values": [0, 500, 1000, 1500, 2000, 2500, 3000, 3500, 4000, 4500, 5000], "labelExpr": "datum.value % 1000 === 0 ? format(datum.value, ',') : ''", "title": "Black bean yield (lbs/ac)", "titleFontSize": 21, "titleY": 366, "titlePadding": 22, "gridColor": "#EBEBEB", "tickOpacity": {"condition": {"test": "datum.value % 1000 === 0", "value": 1}, "value": 0}}}
      },
      "layer": [
        {"data": {"name": "pts"}, "transform": [{"filter": "datum.panel === 'Alburgh 2022'"}], "mark": "point"},
        {"data": {"name": "curves"}, "transform": [{"filter": "datum.panel === 'Alburgh 2022'"}], "mark": "line", "encoding": {"color": {"field": "curve", "type": "nominal", "scale": {"domain": ["green", "blue", "orange", "red", "black"], "range": ["#00FF00", "#0000FF", "#FFA500", "#FF0000", "#000000"]}, "legend": null}}},
        {"data": {"name": "labels"}, "transform": [{"filter": "datum.panel === 'Alburgh 2022'"}], "mark": "text", "encoding": {"text": {"field": "value", "type": "quantitative", "format": ","}, "fill": {"field": "status", "type": "nominal", "scale": {"domain": ["sig", "ns"], "range": ["#217A3C", "#C00000"]}, "legend": null}}}
      ]
    },
    {
      "title": "Arlington 2022", "width": 285, "height": 226, "view": {"fill": "#C4C4C4"},
      "encoding": {
        "x": {"field": "x", "type": "quantitative", "scale": {"domain": [-180, 3780], "nice": false, "zero": false}, "axis": {"values": [0, 500, 1000, 1500, 2000, 2500, 3000, 3500], "labels": false, "title": null, "gridColor": "#ABABAB", "tickOpacity": {"condition": {"test": "datum.value % 1000 === 0", "value": 1}, "value": 0}}},
        "y": {"field": "y", "type": "quantitative", "scale": {"domain": [0, 5500], "nice": false}, "axis": {"values": [0, 500, 1000, 1500, 2000, 2500, 3000, 3500, 4000, 4500, 5000], "labels": false, "title": null, "gridColor": "#ABABAB", "tickOpacity": {"condition": {"test": "datum.value % 1000 === 0", "value": 1}, "value": 0}}}
      },
      "layer": [
        {"data": {"name": "pts"}, "transform": [{"filter": "datum.panel === 'Arlington 2022'"}], "mark": "point"},
        {"data": {"name": "curves"}, "transform": [{"filter": "datum.panel === 'Arlington 2022'"}], "mark": "line", "encoding": {"color": {"field": "curve", "type": "nominal", "scale": {"domain": ["green", "blue", "orange", "red", "black"], "range": ["#00FF00", "#0000FF", "#FFA500", "#FF0000", "#000000"]}, "legend": null}}},
        {"data": {"name": "labels"}, "transform": [{"filter": "datum.panel === 'Arlington 2022'"}], "mark": "text", "encoding": {"text": {"field": "value", "type": "quantitative", "format": ","}, "fill": {"field": "status", "type": "nominal", "scale": {"domain": ["sig", "ns"], "range": ["#217A3C", "#C00000"]}, "legend": null}}}
      ]
    },
    {
      "title": "Aurora 2022", "width": 285, "height": 226, "view": {"fill": "white"},
      "encoding": {
        "x": {"field": "x", "type": "quantitative", "scale": {"domain": [-180, 3780], "nice": false, "zero": false}, "axis": {"values": [0, 500, 1000, 1500, 2000, 2500, 3000, 3500], "labels": false, "title": null, "gridColor": "#EBEBEB", "tickOpacity": {"condition": {"test": "datum.value % 1000 === 0", "value": 1}, "value": 0}}},
        "y": {"field": "y", "type": "quantitative", "scale": {"domain": [0, 5500], "nice": false}, "axis": {"values": [0, 500, 1000, 1500, 2000, 2500, 3000, 3500, 4000, 4500, 5000], "labels": false, "title": null, "gridColor": "#EBEBEB", "tickOpacity": {"condition": {"test": "datum.value % 1000 === 0", "value": 1}, "value": 0}}}
      },
      "layer": [
        {"data": {"name": "pts"}, "transform": [{"filter": "datum.panel === 'Aurora 2022'"}], "mark": "point"},
        {"data": {"name": "curves"}, "transform": [{"filter": "datum.panel === 'Aurora 2022'"}], "mark": "line", "encoding": {"color": {"field": "curve", "type": "nominal", "scale": {"domain": ["green", "blue", "orange", "red", "black"], "range": ["#00FF00", "#0000FF", "#FFA500", "#FF0000", "#000000"]}, "legend": null}}},
        {"data": {"name": "labels"}, "transform": [{"filter": "datum.panel === 'Aurora 2022'"}], "mark": "text", "encoding": {"text": {"field": "value", "type": "quantitative", "format": ","}, "fill": {"field": "status", "type": "nominal", "scale": {"domain": ["sig", "ns"], "range": ["#217A3C", "#C00000"]}, "legend": null}}}
      ]
    },
    {
      "title": "Geneva 2022", "width": 285, "height": 226, "view": {"fill": "white"},
      "encoding": {
        "x": {"field": "x", "type": "quantitative", "scale": {"domain": [-180, 3780], "nice": false, "zero": false}, "axis": {"values": [0, 500, 1000, 1500, 2000, 2500, 3000, 3500], "labels": false, "title": null, "gridColor": "#EBEBEB", "tickOpacity": {"condition": {"test": "datum.value % 1000 === 0", "value": 1}, "value": 0}}},
        "y": {"field": "y", "type": "quantitative", "scale": {"domain": [0, 5500], "nice": false}, "axis": {"values": [0, 500, 1000, 1500, 2000, 2500, 3000, 3500, 4000, 4500, 5000], "labelExpr": "datum.value % 1000 === 0 ? format(datum.value, ',') : ''", "title": null, "gridColor": "#EBEBEB", "tickOpacity": {"condition": {"test": "datum.value % 1000 === 0", "value": 1}, "value": 0}}}
      },
      "layer": [
        {"data": {"name": "pts"}, "transform": [{"filter": "datum.panel === 'Geneva 2022'"}], "mark": "point"},
        {"data": {"name": "curves"}, "transform": [{"filter": "datum.panel === 'Geneva 2022'"}], "mark": "line", "encoding": {"color": {"field": "curve", "type": "nominal", "scale": {"domain": ["green", "blue", "orange", "red", "black"], "range": ["#00FF00", "#0000FF", "#FFA500", "#FF0000", "#000000"]}, "legend": null}}},
        {"data": {"name": "labels"}, "transform": [{"filter": "datum.panel === 'Geneva 2022'"}], "mark": "text", "encoding": {"text": {"field": "value", "type": "quantitative", "format": ","}, "fill": {"field": "status", "type": "nominal", "scale": {"domain": ["sig", "ns"], "range": ["#217A3C", "#C00000"]}, "legend": null}}}
      ]
    },
    {
      "title": "Alburgh 2023", "width": 285, "height": 226, "view": {"fill": "#C4C4C4"},
      "encoding": {
        "x": {"field": "x", "type": "quantitative", "scale": {"domain": [-180, 3780], "nice": false, "zero": false}, "axis": {"values": [0, 500, 1000, 1500, 2000, 2500, 3000, 3500], "labels": false, "title": null, "gridColor": "#ABABAB", "tickOpacity": {"condition": {"test": "datum.value % 1000 === 0", "value": 1}, "value": 0}}},
        "y": {"field": "y", "type": "quantitative", "scale": {"domain": [0, 5500], "nice": false}, "axis": {"values": [0, 500, 1000, 1500, 2000, 2500, 3000, 3500, 4000, 4500, 5000], "labels": false, "title": null, "gridColor": "#ABABAB", "tickOpacity": {"condition": {"test": "datum.value % 1000 === 0", "value": 1}, "value": 0}}}
      },
      "layer": [
        {"data": {"name": "pts"}, "transform": [{"filter": "datum.panel === 'Alburgh 2023'"}], "mark": "point"},
        {"data": {"name": "curves"}, "transform": [{"filter": "datum.panel === 'Alburgh 2023'"}], "mark": "line", "encoding": {"color": {"field": "curve", "type": "nominal", "scale": {"domain": ["green", "blue", "orange", "red", "black"], "range": ["#00FF00", "#0000FF", "#FFA500", "#FF0000", "#000000"]}, "legend": null}}},
        {"data": {"name": "labels"}, "transform": [{"filter": "datum.panel === 'Alburgh 2023'"}], "mark": "text", "encoding": {"text": {"field": "value", "type": "quantitative", "format": ","}, "fill": {"field": "status", "type": "nominal", "scale": {"domain": ["sig", "ns"], "range": ["#217A3C", "#C00000"]}, "legend": null}}}
      ]
    },
    {
      "title": "Arlington 2023", "width": 285, "height": 226, "view": {"fill": "#C4C4C4"},
      "encoding": {
        "x": {"field": "x", "type": "quantitative", "scale": {"domain": [-180, 3780], "nice": false, "zero": false}, "axis": {"values": [0, 500, 1000, 1500, 2000, 2500, 3000, 3500], "labels": false, "title": null, "gridColor": "#ABABAB", "tickOpacity": {"condition": {"test": "datum.value % 1000 === 0", "value": 1}, "value": 0}}},
        "y": {"field": "y", "type": "quantitative", "scale": {"domain": [0, 5500], "nice": false}, "axis": {"values": [0, 500, 1000, 1500, 2000, 2500, 3000, 3500, 4000, 4500, 5000], "labels": false, "title": null, "gridColor": "#ABABAB", "tickOpacity": {"condition": {"test": "datum.value % 1000 === 0", "value": 1}, "value": 0}}}
      },
      "layer": [
        {"data": {"name": "pts"}, "transform": [{"filter": "datum.panel === 'Arlington 2023'"}], "mark": "point"},
        {"data": {"name": "curves"}, "transform": [{"filter": "datum.panel === 'Arlington 2023'"}], "mark": "line", "encoding": {"color": {"field": "curve", "type": "nominal", "scale": {"domain": ["green", "blue", "orange", "red", "black"], "range": ["#00FF00", "#0000FF", "#FFA500", "#FF0000", "#000000"]}, "legend": null}}},
        {"data": {"name": "labels"}, "transform": [{"filter": "datum.panel === 'Arlington 2023'"}], "mark": "text", "encoding": {"text": {"field": "value", "type": "quantitative", "format": ","}, "fill": {"field": "status", "type": "nominal", "scale": {"domain": ["sig", "ns"], "range": ["#217A3C", "#C00000"]}, "legend": null}}}
      ]
    },
    {
      "title": "Aurora 2023", "width": 285, "height": 226, "view": {"fill": "white"},
      "encoding": {
        "x": {"field": "x", "type": "quantitative", "scale": {"domain": [-180, 3780], "nice": false, "zero": false}, "axis": {"values": [0, 500, 1000, 1500, 2000, 2500, 3000, 3500], "labelExpr": "datum.value % 1000 === 0 ? format(datum.value, ',') : ''", "title": null, "gridColor": "#EBEBEB", "tickOpacity": {"condition": {"test": "datum.value % 1000 === 0", "value": 1}, "value": 0}}},
        "y": {"field": "y", "type": "quantitative", "scale": {"domain": [0, 5500], "nice": false}, "axis": {"values": [0, 500, 1000, 1500, 2000, 2500, 3000, 3500, 4000, 4500, 5000], "labelExpr": "datum.value % 1000 === 0 ? format(datum.value, ',') : ''", "title": null, "gridColor": "#EBEBEB", "tickOpacity": {"condition": {"test": "datum.value % 1000 === 0", "value": 1}, "value": 0}}}
      },
      "layer": [
        {"data": {"name": "pts"}, "transform": [{"filter": "datum.panel === 'Aurora 2023'"}], "mark": "point"},
        {"data": {"name": "curves"}, "transform": [{"filter": "datum.panel === 'Aurora 2023'"}], "mark": "line", "encoding": {"color": {"field": "curve", "type": "nominal", "scale": {"domain": ["green", "blue", "orange", "red", "black"], "range": ["#00FF00", "#0000FF", "#FFA500", "#FF0000", "#000000"]}, "legend": null}}},
        {"data": {"name": "labels"}, "transform": [{"filter": "datum.panel === 'Aurora 2023'"}], "mark": "text", "encoding": {"text": {"field": "value", "type": "quantitative", "format": ","}, "fill": {"field": "status", "type": "nominal", "scale": {"domain": ["sig", "ns"], "range": ["#217A3C", "#C00000"]}, "legend": null}}}
      ]
    },
    {
      "title": "Geneva 2023", "width": 285, "height": 226, "view": {"fill": "white"},
      "encoding": {
        "x": {"field": "x", "type": "quantitative", "scale": {"domain": [-180, 3780], "nice": false, "zero": false}, "axis": {"values": [0, 500, 1000, 1500, 2000, 2500, 3000, 3500], "labelExpr": "datum.value % 1000 === 0 ? format(datum.value, ',') : ''", "title": "Weed biomass (lbs/ac)", "titleFontSize": 20, "titleX": 112, "titleY": 73, "titleBaseline": "middle", "titleAlign": "center", "gridColor": "#EBEBEB", "tickOpacity": {"condition": {"test": "datum.value % 1000 === 0", "value": 1}, "value": 0}}},
        "y": {"field": "y", "type": "quantitative", "scale": {"domain": [0, 5500], "nice": false}, "axis": {"values": [0, 500, 1000, 1500, 2000, 2500, 3000, 3500, 4000, 4500, 5000], "labels": false, "title": null, "gridColor": "#EBEBEB", "tickOpacity": {"condition": {"test": "datum.value % 1000 === 0", "value": 1}, "value": 0}}}
      },
      "layer": [
        {"data": {"name": "pts"}, "transform": [{"filter": "datum.panel === 'Geneva 2023'"}], "mark": "point"},
        {"data": {"name": "curves"}, "transform": [{"filter": "datum.panel === 'Geneva 2023'"}], "mark": "line", "encoding": {"color": {"field": "curve", "type": "nominal", "scale": {"domain": ["green", "blue", "orange", "red", "black"], "range": ["#00FF00", "#0000FF", "#FFA500", "#FF0000", "#000000"]}, "legend": null}}},
        {"data": {"name": "labels"}, "transform": [{"filter": "datum.panel === 'Geneva 2023'"}], "mark": "text", "encoding": {"text": {"field": "value", "type": "quantitative", "format": ","}, "fill": {"field": "status", "type": "nominal", "scale": {"domain": ["sig", "ns"], "range": ["#217A3C", "#C00000"]}, "legend": null}}}
      ]
    },
    {
      "title": "Stillwater 2023", "width": 285, "height": 226, "view": {"fill": "#C4C4C4"},
      "encoding": {
        "x": {"field": "x", "type": "quantitative", "scale": {"domain": [-180, 3780], "nice": false, "zero": false}, "axis": {"values": [0, 500, 1000, 1500, 2000, 2500, 3000, 3500], "labelExpr": "datum.value % 1000 === 0 ? format(datum.value, ',') : ''", "title": null, "gridColor": "#ABABAB", "tickOpacity": {"condition": {"test": "datum.value % 1000 === 0", "value": 1}, "value": 0}}},
        "y": {"field": "y", "type": "quantitative", "scale": {"domain": [0, 5500], "nice": false}, "axis": {"values": [0, 500, 1000, 1500, 2000, 2500, 3000, 3500, 4000, 4500, 5000], "labels": false, "title": null, "gridColor": "#ABABAB", "tickOpacity": {"condition": {"test": "datum.value % 1000 === 0", "value": 1}, "value": 0}}}
      },
      "layer": [
        {"data": {"name": "pts"}, "transform": [{"filter": "datum.panel === 'Stillwater 2023'"}], "mark": "point"},
        {"data": {"name": "curves"}, "transform": [{"filter": "datum.panel === 'Stillwater 2023'"}], "mark": "line", "encoding": {"color": {"field": "curve", "type": "nominal", "scale": {"domain": ["green", "blue", "orange", "red", "black"], "range": ["#00FF00", "#0000FF", "#FFA500", "#FF0000", "#000000"]}, "legend": null}}},
        {"data": {"name": "labels"}, "transform": [{"filter": "datum.panel === 'Stillwater 2023'"}], "mark": "text", "encoding": {"text": {"field": "value", "type": "quantitative", "format": ","}, "fill": {"field": "status", "type": "nominal", "scale": {"domain": ["sig", "ns"], "range": ["#217A3C", "#C00000"]}, "legend": null}}}
      ]
    }
  ]
}
